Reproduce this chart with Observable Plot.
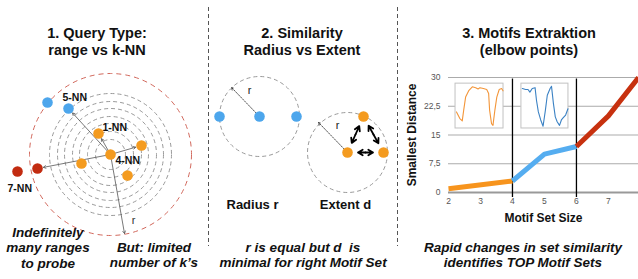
<!DOCTYPE html>
<html>
<head>
<meta charset="utf-8">
<script src="https://cdn.jsdelivr.net/npm/d3@7"></script>
<script src="https://cdn.jsdelivr.net/npm/@observablehq/plot@0.6"></script>
<style>
html, body { margin: 0; padding: 0; background: #fff; }
#fig { position: relative; width: 638px; height: 279px; overflow: hidden; font-family: "Liberation Sans", Arial, sans-serif; color: #111; }
.panel { position: absolute; top: 0; }
.title { position: absolute; font-weight: bold; font-size: 14.5px; line-height: 17px; text-align: center; white-space: pre; transform: translateX(-50%); }
.caption { position: absolute; font-weight: bold; font-style: italic; font-size: 13.5px; line-height: 15.5px; text-align: center; white-space: pre; transform: translateX(-50%); }
.divider { position: absolute; width: 1px; top: 7px; height: 239px; background-image: linear-gradient(#555 57%, transparent 0); background-size: 1px 7px; }
</style>
</head>
<body>
<div id="fig">
  <div class="panel" id="p1" style="left:0px"></div>
  <div class="panel" id="p2" style="left:208px"></div>
  <div class="panel" id="p3" style="left:397px"></div>
  <div class="divider" style="left:208px"></div>
  <div class="divider" style="left:397px"></div>
</div>
<script>
// ---------------- data ----------------
const panelTitles = ["1. Query Type:\nrange vs k-NN", "2. Similarity\nRadius vs Extent", "3. Motifs Extraktion\n(elbow points)"];
const panelCaptions = ["Indefinitely\nmany ranges\nto probe", "But: limited\nnumber of k\u2019s", "r is equal but d  is\nminimal for right Motif Set", "Rapid changes in set similarity\nidentifies TOP Motif Sets"];

// Panel 1 (query point at origin)
const knnRings = [15, 23, 31, 38, 46, 53, 61];
const rangeRadius = 81;
const p1Groups = ["k \u2264 4", "k = 5,6", "k = 7,8"];
const p1GroupColors = ["#F49B1F", "#4DA6EC", "#C22B10"];
const p1Neighbours = [
  {x: -12, y: 21, group: "k \u2264 4"},
  {x: 31, y: 9, group: "k \u2264 4"},
  {x: -29, y: -9, group: "k \u2264 4"},
  {x: 17, y: -21, group: "k \u2264 4"},
  {x: -42, y: 46, group: "k = 5,6"},
  {x: -63, y: 52, group: "k = 5,6"},
  {x: -73, y: -14, group: "k = 7,8"},
  {x: -93, y: -17, group: "k = 7,8"}
];
const p1Query = [{x: 0, y: 0, group: "k \u2264 4"}];
const p1ArrowTargets = [{x: -42, y: 46}, {x: -12, y: 21}, {x: 31, y: 9}, {x: -73, y: -14}];
const p1RadiusEnd = [{x: 14, y: -79}];
const p1Labels = [
  {text: "5-NN", x: -48, y: 57},
  {text: "1-NN", x: -8, y: 27},
  {text: "4-NN", x: 5, y: -6},
  {text: "7-NN", x: -103, y: -34}
];
const p1RLabel = [{text: "r", x: 23, y: -66}];

// Panel 2 (left set centre at origin)
const radiusSet = [{x: -40, y: 0}, {x: 0, y: 0}, {x: 37, y: 0}];
const extentSet = [{x: 88, y: -36}, {x: 124, y: -36}, {x: 104, y: 0}];
const p2Circles = [{x: 0, y: 0, r: 40}, {x: 88, y: -36, r: 40}];
const p2RadiusArrows = [{x1: 0, y1: 0, x2: -28, y2: 29}, {x1: 88, y1: -36, x2: 59, y2: -6}];
const extentPairs = [[0, 1], [0, 2], [2, 1]];
const p2RLabels = [{text: "r", x: -10, y: 26}, {text: "r", x: 78, y: -9}];
const p2Labels = [{text: "Radius r", x: -7, y: -88}, {text: "Extent d", x: 86, y: -88}];

// Panel 3 (chart)
const sizeTicks = [2, 3, 4, 5, 6, 7];
const distTicks = [0, 7.5, 15, 22.5, 30];
const segmentNames = ["up to 1st elbow", "between elbows", "after 2nd elbow"];
const segmentColors = ["#F7941D", "#55ADF0", "#C7310F"];
const segmentSizes = [[2, 4], [4, 5, 6], [6, 7, 7.94]];
const segmentDists = [[1, 3], [3, 10, 12], [12, 20, 30]];
const elbows = [4, 6];
const motifBoxes = [{x1: 2.22, x2: 3.72, y1: 16.7, y2: 28.4}, {x1: 4.28, x2: 5.75, y1: 16.7, y2: 28.4}];
const orangeMotif = [[.02,.37],[.09,.22],[.14,.17],[.17,.41],[.21,.70],[.28,.85],[.35,.93],[.42,.91],[.47,.88],[.51,.91],[.58,.89],[.65,.87],[.69,.78],[.71,.41],[.75,.11],[.78,.07],[.82,.41],[.86,.70],[.91,.87],[.96,.89],[.99,.84]];
const blueMotif = [[.02,.89],[.09,.87],[.14,.87],[.18,.81],[.23,.89],[.29,.91],[.32,.63],[.36,.37],[.41,.19],[.46,.05],[.51,.41],[.55,.74],[.61,.89],[.64,.94],[.68,.56],[.72,.26],[.76,.15],[.81,.07],[.85,.19],[.89,.24],[.94,.30],[.99,.44]];
const motifColors = ["#F3963A", "#3B82C4"];

// ---------------- helpers ----------------
const baseStyle = {fontFamily: "'Liberation Sans', Arial, sans-serif", fontSize: "10px", background: "transparent", overflow: "visible", color: "#111"};
const fig = document.getElementById("fig");

// ---------------- panel 1 ----------------
const p1 = Plot.plot({
  width: 208, height: 279, margin: 0,
  x: {domain: [-110, 98], axis: null},
  y: {domain: [-125, 154], axis: null},
  color: {domain: p1Groups, range: p1GroupColors},
  style: baseStyle,
  marks: [
    ...knnRings.map(rad => Plot.dot([rad], {x: () => 0, y: () => 0, r: rad, fill: "none", stroke: "#9a9a9a", strokeWidth: 1, strokeDasharray: "4,3"})),
    Plot.dot([rangeRadius], {x: () => 0, y: () => 0, r: rangeRadius, fill: "none", stroke: "#D2685C", strokeWidth: 1, strokeDasharray: "5,4"}),
    Plot.arrow(p1ArrowTargets, {x1: () => 0, y1: () => 0, x2: "x", y2: "y", insetStart: 5, insetEnd: 6, stroke: "#555", strokeWidth: 0.8, headLength: 5}),
    Plot.arrow(p1RadiusEnd, {x1: () => 0, y1: () => 0, x2: "x", y2: "y", insetStart: 5, stroke: "#555", strokeWidth: 0.8, headLength: 5}),
    Plot.dot(p1Neighbours, {x: "x", y: "y", r: 5.3, fill: "group"}),
    Plot.dot(p1Query, {x: "x", y: "y", r: 5.3, fill: "group"}),
    Plot.text(p1Labels, {x: "x", y: "y", text: "text", textAnchor: "start", lineAnchor: "middle", fontWeight: "bold", fontSize: 10.5, fill: "#111"}),
    Plot.text(p1RLabel, {x: "x", y: "y", text: "text", fontSize: 11, fill: "#333"})
  ]
});
document.getElementById("p1").append(p1);

// ---------------- panel 2 ----------------
const extentArrows = [];
extentPairs.forEach(([a, b]) => {
  const A = extentSet[a], B = extentSet[b];
  const mx = (A.x + B.x) / 2, my = (A.y + B.y) / 2;
  extentArrows.push({x1: mx, y1: my, x2: A.x, y2: A.y}, {x1: mx, y1: my, x2: B.x, y2: B.y});
});
const p2 = Plot.plot({
  width: 189, height: 279, margin: 0,
  x: {domain: [-51, 138], axis: null},
  y: {domain: [-163, 116], axis: null},
  style: baseStyle,
  marks: [
    ...p2Circles.map(c => Plot.dot([c], {x: "x", y: "y", r: c.r, fill: "none", stroke: "#9a9a9a", strokeWidth: 1, strokeDasharray: "4,3"})),
    Plot.arrow(p2RadiusArrows, {x1: "x1", y1: "y1", x2: "x2", y2: "y2", insetStart: 5, stroke: "#222", strokeWidth: 0.8, strokeDasharray: "1.5,1.5", headLength: 5}),
    Plot.arrow(extentArrows, {x1: "x1", y1: "y1", x2: "x2", y2: "y2", insetEnd: 10.5, stroke: "#000", strokeWidth: 1.8, headLength: 4.5}),
    Plot.dot(radiusSet, {x: "x", y: "y", r: 5.3, fill: "#4DA6EC"}),
    Plot.dot(extentSet, {x: "x", y: "y", r: 5.3, fill: "#F49B1F"}),
    Plot.text(p2RLabels, {x: "x", y: "y", text: "text", fontSize: 11, fill: "#222"}),
    Plot.text(p2Labels, {x: "x", y: "y", text: "text", fontWeight: "bold", fontSize: 13, fill: "#111"})
  ]
});
document.getElementById("p2").append(p2);

// ---------------- panel 3 ----------------
const curve = [];
segmentNames.forEach((name, i) => segmentSizes[i].forEach((s, j) => curve.push({size: s, dist: segmentDists[i][j], seg: name})));
const motifRows = [];
[orangeMotif, blueMotif].forEach((series, k) => {
  const b = motifBoxes[k];
  series.forEach(([t, v]) => motifRows.push({x: b.x1 + t * (b.x2 - b.x1), y: b.y1 + v * (b.y2 - b.y1), id: k}));
});
const xMax = 7.94;
const p3 = Plot.plot({
  width: 241, height: 279, marginLeft: 51, marginRight: 0, marginTop: 77, marginBottom: 87,
  x: {domain: [2, xMax], ticks: sizeTicks, tickSize: 0, tickPadding: 5, label: null, tickFormat: d => String(d)},
  y: {domain: [0, 30], ticks: distTicks, tickSize: 0, tickPadding: 8, label: null, tickFormat: d => String(d).replace(".", ",")},
  color: {domain: segmentNames, range: segmentColors},
  style: {...baseStyle, fontSize: "8.5px", color: "#555"},
  marks: [
    Plot.ruleY(distTicks.filter(d => d > 0), {x1: 2, x2: xMax, stroke: "#ababab", strokeWidth: 1}),
    Plot.ruleY([0], {x1: 2, x2: xMax, stroke: "#999", strokeWidth: 2}),
    Plot.rect(motifBoxes, {x1: "x1", x2: "x2", y1: "y1", y2: "y2", fill: "white", stroke: "#c2c2c2", strokeWidth: 1}),
    Plot.line(motifRows.filter(d => d.id === 0), {x: "x", y: "y", stroke: motifColors[0], strokeWidth: 1.1}),
    Plot.line(motifRows.filter(d => d.id === 1), {x: "x", y: "y", stroke: motifColors[1], strokeWidth: 1.1}),
    Plot.ruleX(elbows, {y1: -1.3, y2: 29.6, stroke: "#000", strokeWidth: 1.3}),
    Plot.line(curve, {x: "size", y: "dist", z: "seg", stroke: "seg", strokeWidth: 5, strokeLinecap: "butt", strokeLinejoin: "round"}),
    Plot.text(["Smallest Distance"], {text: d => d, frameAnchor: "left", rotate: -90, dx: -36, textAnchor: "middle", lineAnchor: "middle", fontWeight: "bold", fontSize: 12, fill: "#111"}),
    Plot.text(["Motif Set Size"], {text: d => d, frameAnchor: "bottom", dy: 26, textAnchor: "middle", lineAnchor: "middle", fontWeight: "bold", fontSize: 12, fill: "#111"})
  ]
});
document.getElementById("p3").append(p3);

// ---------------- titles and captions ----------------
const titleCentres = [97, 302, 529];
panelTitles.forEach((t, i) => {
  const d = document.createElement("div");
  d.className = "title"; d.textContent = t;
  d.style.left = titleCentres[i] + "px"; d.style.top = "24.5px";
  fig.append(d);
});
const captionCentres = [48, 154, 303, 523];
const captionTops = [224.6, 239.6, 239.6, 239.6];
panelCaptions.forEach((t, i) => {
  const d = document.createElement("div");
  d.className = "caption"; d.textContent = t;
  d.style.left = captionCentres[i] + "px"; d.style.top = captionTops[i] + "px";
  fig.append(d);
});
</script>
</body>
</html>
